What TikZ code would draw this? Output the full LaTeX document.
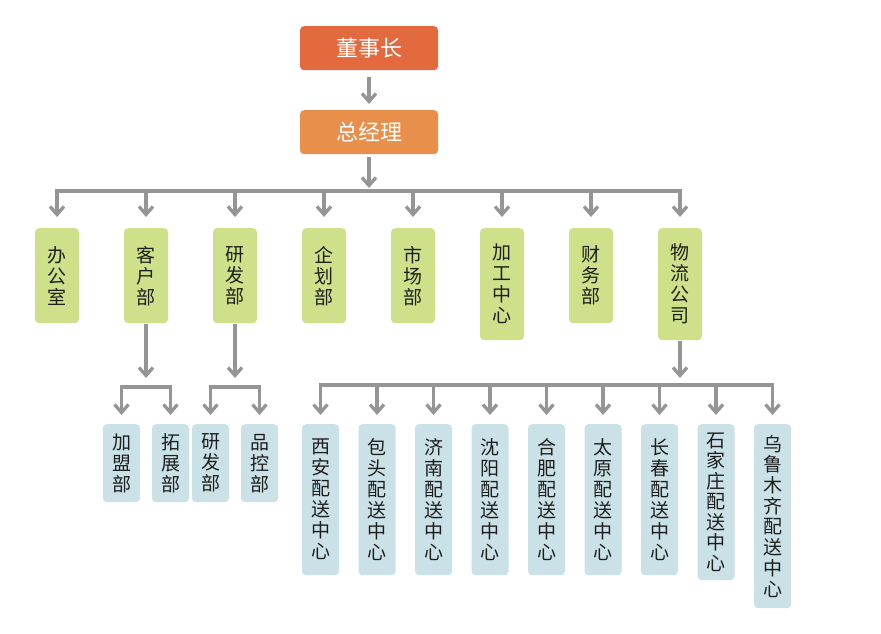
\documentclass[tikz,border=0pt]{standalone}
\usepackage{fontspec}
\setmainfont{Noto Sans CJK SC}
\usetikzlibrary{arrows.meta}
\definecolor{cred}{HTML}{E3693F}
\definecolor{corange}{HTML}{E98F4C}
\definecolor{cgreen}{HTML}{CFE08A}
\definecolor{cblue}{HTML}{C9E1E7}
\definecolor{cgray}{HTML}{959595}
\definecolor{ctxt}{HTML}{1E1E1E}
\begin{document}
\begin{tikzpicture}[x=1pt,y=-1pt,
  box/.style={rectangle, rounded corners=4pt, anchor=north, inner sep=0pt, align=center, text=ctxt},
  topbox/.style={box, minimum width=138pt, minimum height=44pt, text=white, font=\fontsize{22}{24}\selectfont},
  dept/.style={box, fill=cgreen, minimum width=44pt, font=\fontsize{19}{21}\selectfont},
  subbox/.style={box, fill=cblue, minimum width=37pt, font=\fontsize{19}{21}\selectfont},
  conn/.style={draw=cgray, line width=3.3pt},
  arr/.style={conn, -{Straight Barb[length=8pt,width=14pt]}},
  bus/.style={conn, line cap=rect}
]
\useasboundingbox (0,0) rectangle (881,634);

% top
\node[topbox, fill=cred] (ceo) at (369,26) {董事长};
\node[topbox, fill=corange] (gm) at (369,110) {总经理};

% departments
\node[dept, minimum height=95pt] (d1) at (57,228) {办\\公\\室};
\node[dept, minimum height=95pt] (d2) at (146,228) {客\\户\\部};
\node[dept, minimum height=95pt] (d3) at (235,228) {研\\发\\部};
\node[dept, minimum height=95pt] (d4) at (324,228) {企\\划\\部};
\node[dept, minimum height=95pt] (d5) at (413,228) {市\\场\\部};
\node[dept, minimum height=112pt] (d6) at (502,228) {加\\工\\中\\心};
\node[dept, minimum height=95pt] (d7) at (591,228) {财\\务\\部};
\node[dept, minimum height=112pt] (d8) at (680,228) {物\\流\\公\\司};

% sub departments
\node[subbox, minimum height=78pt] (s1) at (121.5,424) {加\\盟\\部};
\node[subbox, minimum height=78pt] (s2) at (170.5,424) {拓\\展\\部};
\node[subbox, minimum height=78pt] (s3) at (210.5,424) {研\\发\\部};
\node[subbox, minimum height=78pt] (s4) at (259.5,424) {品\\控\\部};

% distribution centres
\node[subbox, minimum height=151pt] (c1) at (320.5,424) {西\\安\\配\\送\\中\\心};
\node[subbox, minimum height=151pt] (c2) at (377,424) {包\\头\\配\\送\\中\\心};
\node[subbox, minimum height=151pt] (c3) at (433.5,424) {济\\南\\配\\送\\中\\心};
\node[subbox, minimum height=151pt] (c4) at (490,424) {沈\\阳\\配\\送\\中\\心};
\node[subbox, minimum height=151pt] (c5) at (546.5,424) {合\\肥\\配\\送\\中\\心};
\node[subbox, minimum height=151pt] (c6) at (603,424) {太\\原\\配\\送\\中\\心};
\node[subbox, minimum height=151pt] (c7) at (659.5,424) {长\\春\\配\\送\\中\\心};
\node[subbox, minimum height=156pt, font=\fontsize{19}{20.5}\selectfont] (c8) at (716,424) {石\\家\\庄\\配\\送\\中\\心};
\node[subbox, minimum height=184pt, font=\fontsize{19}{20.7}\selectfont] (c9) at (772.5,424) {乌\\鲁\\木\\齐\\配\\送\\中\\心};

% bus coordinates
\coordinate (busM) at (369,191);
\coordinate (busK) at (146,387);
\coordinate (busY) at (235,387);
\coordinate (busW) at (680,385);

% connectors top
\draw[arr, shorten <=7pt, shorten >=6pt] (ceo.south) -- (gm.north);
\draw[arr, shorten <=3pt, shorten >=3pt] (gm.south) -- (busM);
\draw[bus] (d1.north |- busM) -- (d8.north |- busM);
\foreach \d in {d1,d2,d3,d4,d5,d6,d7,d8}
  \draw[arr, shorten >=11pt] (\d.north |- busM) -- (\d.north);

% 客户部
\draw[arr, shorten <=1pt, shorten >=9pt] (d2.south) -- (busK);
\draw[bus] (s1.north |- busK) -- (s2.north |- busK);
\foreach \s in {s1,s2}
  \draw[arr, shorten >=9pt] (\s.north |- busK) -- (\s.north);

% 研发部
\draw[arr, shorten <=1pt, shorten >=9pt] (d3.south) -- (busY);
\draw[bus] (s3.north |- busY) -- (s4.north |- busY);
\foreach \s in {s3,s4}
  \draw[arr, shorten >=9pt] (\s.north |- busY) -- (\s.north);

% 物流公司
\draw[arr, shorten <=1pt, shorten >=7pt] (d8.south) -- (busW);
\draw[bus] (c1.north |- busW) -- (c9.north |- busW);
\foreach \c in {c1,c2,c3,c4,c5,c6,c7,c8,c9}
  \draw[arr, shorten >=9pt] (\c.north |- busW) -- (\c.north);
\end{tikzpicture}
\end{document}
